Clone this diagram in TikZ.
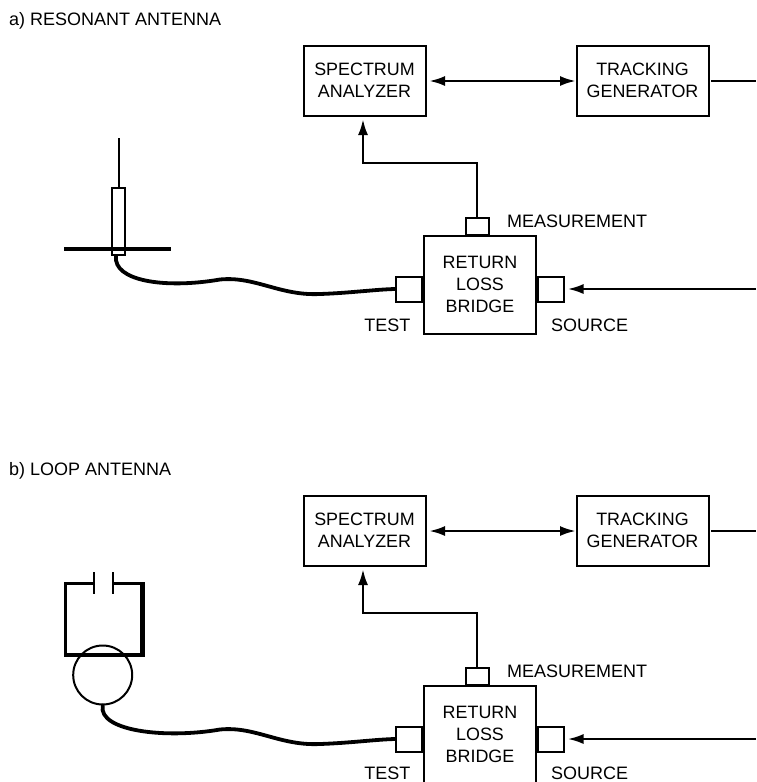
\documentclass[tikz,border=0pt]{standalone}
\usepackage{fontspec}
\setmainfont{Liberation Sans}
\usetikzlibrary{arrows.meta}
\tikzset{
  >={Latex[length=15.5pt,width=10pt]},
  block/.style={draw,line width=2pt,align=center,inner sep=0pt,font=\fontsize{17.9}{22}\selectfont},
  port/.style={draw,line width=2pt,inner sep=0pt},
  lbl/.style={inner sep=0pt,font=\fontsize{18}{20}\selectfont},
  wire/.style={line width=2pt},
  cable/.style={line width=3.8pt,line cap=round},
  bench/.pic={
    \node[block,minimum width=122pt,minimum height=70pt] (-sa) at (364.5,80.5) {SPECTRUM\\ANALYZER};
    \node[block,minimum width=132pt,minimum height=70pt] (-tg) at (642.5,80.5) {TRACKING\\GENERATOR};
    \node[block,minimum width=112pt,minimum height=98pt] (-rlb) at (480,284.5) {RETURN\\LOSS\\BRIDGE};
    \node[port,minimum width=23pt,minimum height=17pt,anchor=south] (-meas) at (477,235.5) {};
    \node[port,minimum width=26pt,minimum height=25pt,anchor=east] (-test) at (-rlb.west |- 0,289) {};
    \node[port,minimum width=26pt,minimum height=25pt,anchor=west] (-src) at (-rlb.east |- 0,289) {};
    \node[lbl,anchor=west] (-measl) at (507,221) {MEASUREMENT};
    \coordinate (-tgout) at (756,81);
    \coordinate (-srcin) at (756,289);
    \coordinate (-bend) at (363,163);
    \draw[wire,<->,shorten <=3pt] (-sa.east |- 0,81) -- (-tg.west |- 0,81);
    \draw[wire,shorten <=1.5pt] (-tg.east |- -tgout) -- (-tgout);
    \draw[wire,->,shorten >=3pt] (-srcin) -- (-src.east |- -srcin);
    \draw[wire,->,shorten >=3pt] (-meas.north) |- (-bend) -- (-bend |- -sa.south);
  }
}
\begin{document}
\begin{tikzpicture}[x=1pt,y=-1pt]
  \clip (0,0) rectangle (756,782);
  %top
  \node[lbl,anchor=west] (atitle) at (9,21) {a) RESONANT ANTENNA};
  \pic (a) at (0,0) {bench};
  \node[lbl,anchor=east] (atest) at (410.5,325) {TEST};
  \node[lbl,anchor=west] (asrc) at (551,325) {SOURCE};
  %resonant antenna
  \node[port,minimum width=13pt,minimum height=67pt] (coax) at (118.7,221) {};
  \coordinate (whip) at (coax.north |- 0,138);
  \draw[wire] (coax.north) -- (whip);
  \draw[line width=4pt] (64,249) -- (171,249);
  \draw[cable] (116,256) .. controls (113,281) and (165,289) .. (220,279.5) .. controls (255,276) and (280,296) .. (320,294) .. controls (350,293) and (375,289.5) .. (a-test.west);

  %bottom
  \node[lbl,anchor=west] (btitle) at (9,471) {b) LOOP ANTENNA};
  \pic (b) at (0,450) {bench};
  \node[lbl,anchor=east] (btest) at (410.5,773) {TEST};
  \node[lbl,anchor=west] (bsrc) at (551,773) {SOURCE};
  %loop antenna
  \node[draw,circle,line width=2pt,minimum size=59pt,inner sep=0pt] (core) at (102.7,675) {};
  \draw[line width=3.6pt] (93,583.5) -- (65.5,583.5) -- (65.5,655) -- (142.5,655) -- (142.5,583.5) -- (114,583.5);
  \draw[line width=5pt] (142.5,582) -- (142.5,657);
  \draw[wire] (94.3,572) -- (94.3,594) (112.7,572) -- (112.7,594);
  \draw[cable] (core.south) .. controls (98,731) and (165,739) .. (220,729.5) .. controls (255,726) and (280,746) .. (320,744) .. controls (350,743) and (375,739.5) .. (b-test.west);
\end{tikzpicture}
\end{document}
